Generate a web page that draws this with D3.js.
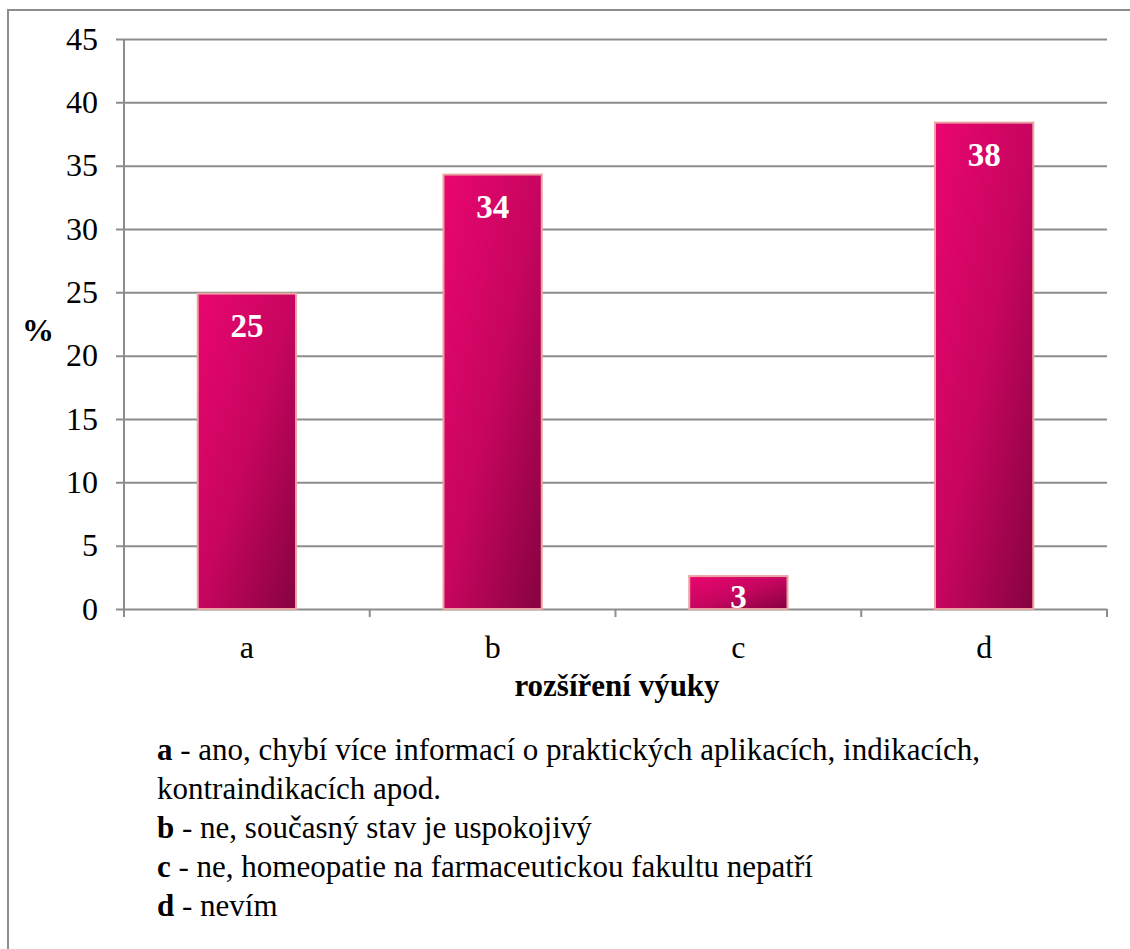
<!DOCTYPE html>
<html>
<head>
<meta charset="utf-8">
<script src="https://cdn.jsdelivr.net/npm/d3@7"></script>
<style>
  body { margin: 0; background: #fff; }
  svg text { font-family: "Liberation Serif", "Times New Roman", Times, serif; }
</style>
</head>
<body>
<svg id="chart" width="1130" height="949"></svg>
<script>
var categories = ['a', 'b', 'c', 'd'];
var values = [24.9, 34.3, 2.6, 38.4];
var yTicks = [0, 5, 10, 15, 20, 25, 30, 35, 40, 45];
var legendLines = [
  ['a', ' - ano, chybí více informací o praktických aplikacích, indikacích,'],
  ['', 'kontraindikacích apod.'],
  ['b', ' - ne, současný stav je uspokojivý'],
  ['c', ' - ne, homeopatie na farmaceutickou fakultu nepatří'],
  ['d', ' - nevím']
];

var serif = '"Liberation Serif", "Times New Roman", Times, serif';
var svg = d3.select('#chart');
var grey = '#8c8c8c';

// outer frame
svg.append('rect')
  .attr('x', 8).attr('y', 10)
  .attr('width', 1140).attr('height', 960)
  .attr('fill', 'none').attr('stroke', grey).attr('stroke-width', 2);

var plotL = 124, plotR = 1107, plotT = 39, plotB = 609;

var x = d3.scaleBand().domain(categories).range([plotL, plotR])
  .paddingInner(0.6).paddingOuter(0.3);
var y = d3.scaleLinear().domain([0, 45]).range([plotB, plotT]);

var defs = svg.append('defs');
var grad = defs.append('linearGradient').attr('id', 'barGrad')
  .attr('x1', 0).attr('y1', 0).attr('x2', 1).attr('y2', 1);
grad.append('stop').attr('offset', '0%').attr('stop-color', '#ea066f');
grad.append('stop').attr('offset', '50%').attr('stop-color', '#c70560');
grad.append('stop').attr('offset', '100%').attr('stop-color', '#85033f');

// gridlines + y ticks
var yAxis = d3.axisLeft(y).tickValues(yTicks).tickSize(8).tickPadding(18);
var gy = svg.append('g').attr('transform', 'translate(' + plotL + ',0)').call(yAxis)
  .attr('font-family', serif);
gy.select('.domain').attr('stroke', grey).attr('stroke-width', 2)
  .attr('d', 'M0,' + plotT + 'V' + (plotB + 8));
gy.selectAll('.tick line').attr('stroke', grey).attr('stroke-width', 2)
  .attr('x1', -8).attr('x2', plotR - plotL);
gy.selectAll('.tick text').attr('fill', '#000')
  .style('font-size', '32px').style('font-family', serif);

// x axis
var step = x.step();
var xt = svg.append('g');
d3.range(categories.length + 1).forEach(function (i) {
  xt.append('line')
    .attr('x1', plotL + i * step).attr('x2', plotL + i * step)
    .attr('y1', plotB).attr('y2', plotB + 8)
    .attr('stroke', grey).attr('stroke-width', 2);
});
xt.selectAll('text.cat').data(categories).enter().append('text')
  .attr('class', 'cat')
  .attr('x', function (d) { return x(d) + x.bandwidth() / 2; })
  .attr('y', 658)
  .attr('text-anchor', 'middle')
  .style('font-size', '32px')
  .text(function (d) { return d; });

// bars
svg.selectAll('rect.bar').data(values).enter().append('rect')
  .attr('class', 'bar')
  .attr('x', function (d, i) { return x(categories[i]); })
  .attr('y', function (d) { return y(d); })
  .attr('width', x.bandwidth())
  .attr('height', function (d) { return y(0) - y(d); })
  .attr('fill', 'url(#barGrad)')
  .attr('stroke', '#eaa4a4').attr('stroke-width', 2);

svg.selectAll('text.lbl').data(values).enter().append('text')
  .attr('class', 'lbl')
  .attr('x', function (d, i) { return x(categories[i]) + x.bandwidth() / 2; })
  .attr('y', function (d) { return Math.min(y(d) + 43, y(0) - 1); })
  .attr('text-anchor', 'middle')
  .attr('fill', '#fff')
  .style('font-size', '33px').style('font-weight', 'bold')
  .text(function (d) { return d3.format('.0f')(d); });

// axis titles
svg.append('text').attr('x', 38).attr('y', 341).attr('text-anchor', 'middle')
  .style('font-size', '32px').style('font-weight', 'bold').text('%');
svg.append('text').attr('x', 617).attr('y', 696).attr('text-anchor', 'middle')
  .style('font-size', '31px').style('font-weight', 'bold').text('rozšíření výuky');

// legend
var lg = svg.append('g');
legendLines.forEach(function (l, i) {
  var t = lg.append('text').attr('x', 157).attr('y', 760 + i * 39)
    .style('font-size', '31px');
  if (l[0]) t.append('tspan').style('font-weight', 'bold').text(l[0]);
  t.append('tspan').text(l[1]);
});
</script>
</body>
</html>
